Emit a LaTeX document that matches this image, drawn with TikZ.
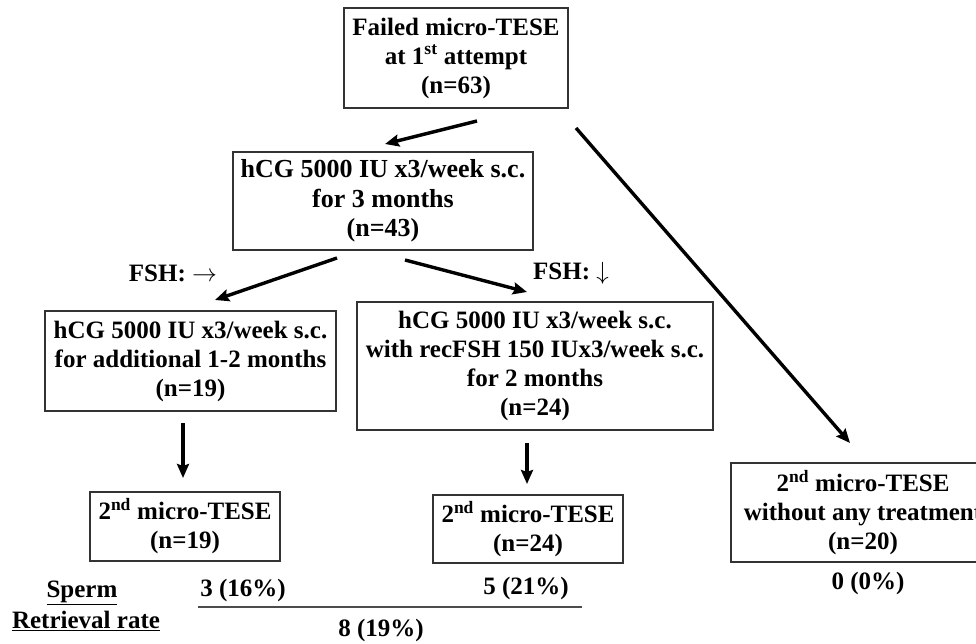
\documentclass[tikz,border=0pt]{standalone}
\usepackage{fontspec}
\setmainfont{Liberation Serif}
\usetikzlibrary{arrows.meta}
\begin{document}
\begin{tikzpicture}[x=1pt,y=-1pt,
  txt/.style={font=\fontsize{25}{29}\selectfont\bfseries, inner sep=0pt, align=center},
  box/.style={txt, draw=black!80, line width=1.2pt},
  arr/.style={line width=3.4pt, -{Stealth[length=14pt,width=12pt,inset=2pt]}},
  sep/.style={draw=black!70, line width=1.4pt}]
\useasboundingbox (0,0) rectangle (976,644);
% boxes
\node[box, minimum width=224pt, minimum height=100pt] (top) at (456,58)
  {Failed micro-TESE\\at 1\textsuperscript{st} attempt\\(n=63)};
\node[box, minimum width=300pt, minimum height=98pt, font=\fontsize{26}{29.5}\selectfont\bfseries] (hcg) at (383,201)
  {hCG 5000 IU x3/week s.c.\\for 3 months\\(n=43)};
\node[box, minimum width=291pt, minimum height=100pt] (add) at (190.5,361)
  {hCG 5000 IU x3/week s.c.\\for additional 1-2 months\\(n=19)};
\node[box, minimum width=356pt, minimum height=128pt] (rec) at (535,366)
  {hCG 5000 IU x3/week s.c.\\with recFSH 150 IUx3/week s.c.\\for 2 months\\(n=24)};
\node[box, minimum width=190pt, minimum height=69pt] (m1) at (185,526.5)
  {2\textsuperscript{nd} micro-TESE\\(n=19)};
\node[box, minimum width=190pt, minimum height=68pt] (m2) at (528,529)
  {2\textsuperscript{nd} micro-TESE\\(n=24)};
\node[box, minimum width=264pt, minimum height=99pt] (m3) at (863,512.5)
  {2\textsuperscript{nd} micro-TESE\\without any treatment\\(n=20)};
% connector end points
\coordinate (a1s) at (477,121); \coordinate (a1e) at (385,144);
\coordinate (a2s) at (576,128); \coordinate (a2e) at (850,443);
\coordinate (a3s) at (337,258); \coordinate (a3e) at (215,300);
\coordinate (a4s) at (405,260); \coordinate (a4e) at (527,292);
\coordinate (a5s) at (183,423); \coordinate (a5e) at (183,478);
\coordinate (a6s) at (527,443); \coordinate (a6e) at (527,484);
\draw[arr] (a1s) -- (a1e);
\draw[arr] (a2s) -- (a2e);
\draw[arr] (a3s) -- (a3e);
\draw[arr] (a4s) -- (a4e);
\draw[arr] (a5s) -- (a5e);
\draw[arr] (a6s) -- (a6e);
% labels
\node[txt] (fsh1) at (173,273) {FSH: $\rightarrow$};
\node[txt] (fsh2) at (571,273) {FSH: $\downarrow$};
\node[txt] (r1) at (243,590) {3 (16\%)};
\node[txt] (r2) at (526,588) {5 (21\%)};
\node[txt] (r3) at (868,583) {0 (0\%)};
\node[txt] (tot) at (381,630) {8 (19\%)};
\node[txt] (sp1) at (82,593) {\underline{Sperm}};
\node[txt] (sp2) at (86,621) {\underline{Retrieval rate}};
\coordinate (ls) at (198,607); \coordinate (le) at (582,607);
\draw[sep] (ls) -- (le);
\end{tikzpicture}
\end{document}
